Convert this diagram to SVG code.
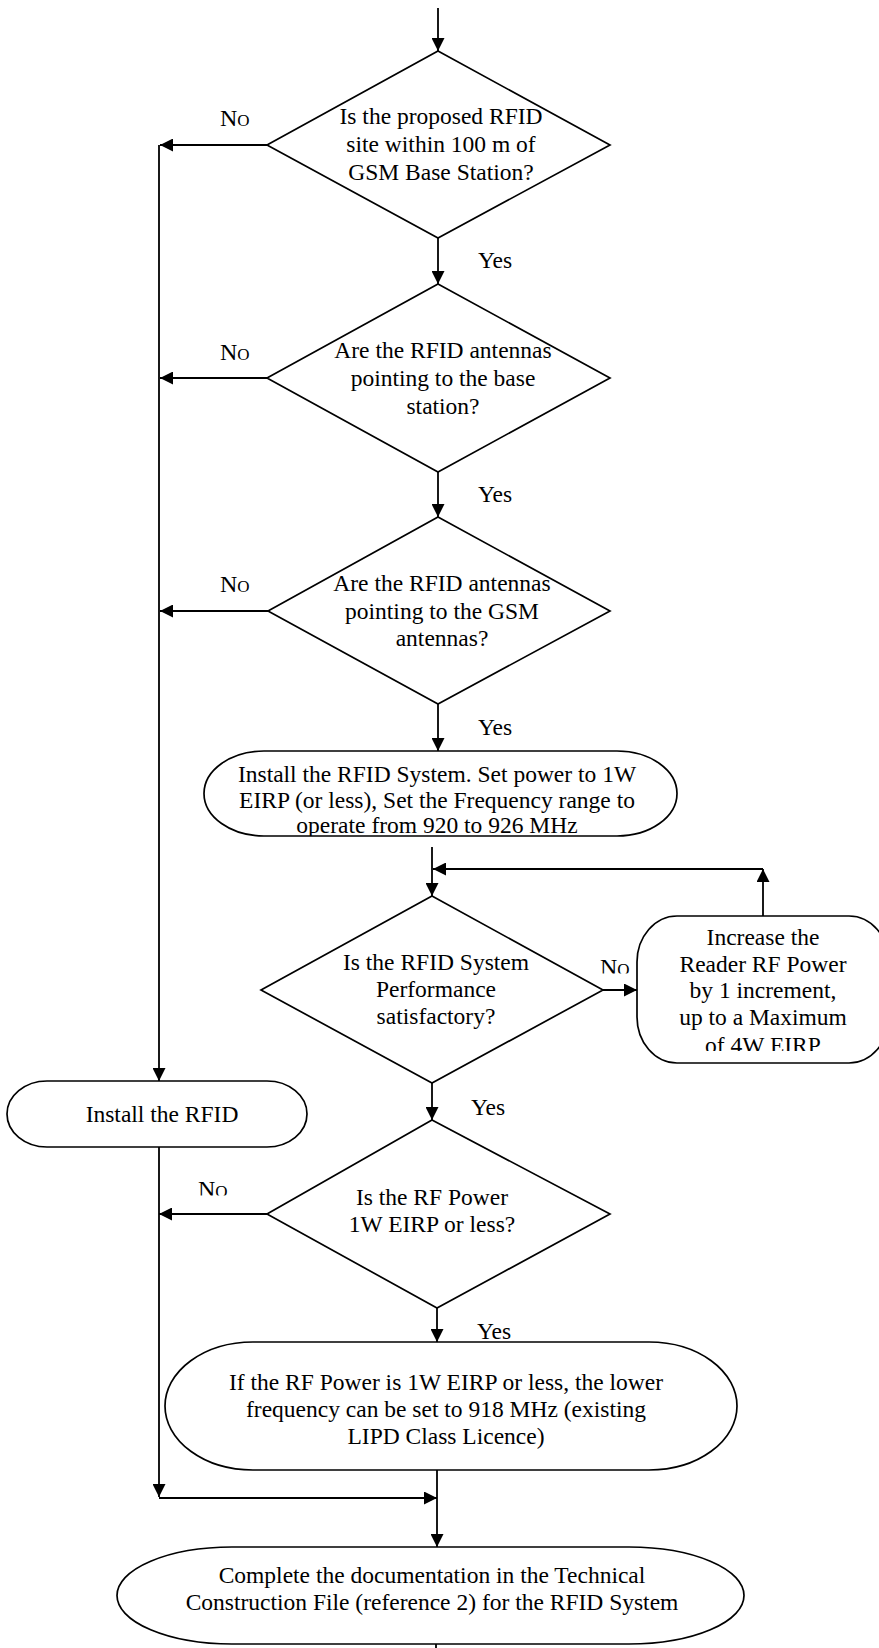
<svg xmlns="http://www.w3.org/2000/svg" width="879" height="1648" viewBox="0 0 879 1648">
<style>
.shape{fill:#fff;stroke:#000;stroke-width:1.7}
.conn{fill:none;stroke:#000;stroke-width:1.8}
text{font-family:"Liberation Serif","Times New Roman",serif;font-size:23.5px;fill:#000}
.c{text-anchor:middle}
.no{font-variant:small-caps;font-size:24px}
</style>
<defs>
<marker id="ah" markerUnits="userSpaceOnUse" markerWidth="14" markerHeight="13" refX="13" refY="6.5" orient="auto">
<path d="M0,0 L13,6.5 L0,13 z" fill="#000"/>
</marker>
<clipPath id="clipE1"><rect x="0" y="700" width="879" height="136"/></clipPath>
<clipPath id="clipInc"><rect x="600" y="900" width="279" height="151"/></clipPath>
<clipPath id="clipNo4"><rect x="590" y="940" width="60" height="33.5"/></clipPath>
<clipPath id="clipNo5"><rect x="190" y="1160" width="60" height="35.5"/></clipPath>
</defs>

<g id="connectors">
<line class="conn" x1="438" y1="8" x2="438" y2="51" marker-end="url(#ah)"/>
<line class="conn" x1="438" y1="238" x2="438" y2="284" marker-end="url(#ah)"/>
<line class="conn" x1="267" y1="145" x2="160" y2="145" marker-end="url(#ah)"/>
<line class="conn" x1="267" y1="378" x2="160" y2="378" marker-end="url(#ah)"/>
<line class="conn" x1="438" y1="472" x2="438" y2="517" marker-end="url(#ah)"/>
<line class="conn" x1="268" y1="611" x2="160" y2="611" marker-end="url(#ah)"/>
<line class="conn" x1="438" y1="704" x2="438" y2="751" marker-end="url(#ah)"/>
<line class="conn" x1="159" y1="145" x2="159" y2="1081" marker-end="url(#ah)"/>
<line class="conn" x1="432" y1="847" x2="432" y2="896" marker-end="url(#ah)"/>
<line class="conn" x1="763" y1="916" x2="763" y2="869" marker-end="url(#ah)"/>
<line class="conn" x1="763" y1="869" x2="433" y2="869" marker-end="url(#ah)"/>
<line class="conn" x1="603" y1="990" x2="637" y2="990" marker-end="url(#ah)"/>
<line class="conn" x1="432" y1="1083" x2="432" y2="1120" marker-end="url(#ah)"/>
<line class="conn" x1="267" y1="1214" x2="159" y2="1214" marker-end="url(#ah)"/>
<line class="conn" x1="159" y1="1147" x2="159" y2="1497" marker-end="url(#ah)"/>
<line class="conn" x1="159" y1="1498" x2="437" y2="1498" marker-end="url(#ah)"/>
<line class="conn" x1="437" y1="1308" x2="437" y2="1342" marker-end="url(#ah)"/>
<line class="conn" x1="437" y1="1470" x2="437" y2="1547" marker-end="url(#ah)"/>
<line class="conn" x1="436" y1="1644" x2="436" y2="1648"/>
</g>

<g id="labels">
<text x="478" y="268">Yes</text>
<text x="478" y="502">Yes</text>
<text x="478" y="735">Yes</text>
<text x="471" y="1115">Yes</text>
<text x="477" y="1339">Yes</text>
<text class="no" x="220" y="126">No</text>
<text class="no" x="220" y="360">No</text>
<text class="no" x="220" y="592">No</text>
<g clip-path="url(#clipNo4)"><text class="no" x="600" y="975">No</text></g>
<g clip-path="url(#clipNo5)"><text class="no" x="198" y="1197">No</text></g>
</g>

<g id="d1">
<polygon class="shape" points="438,51 610,145 438,238 267,145"/>
<text class="c" x="441" y="124">Is the proposed RFID</text>
<text class="c" x="441" y="152">site within 100 m of</text>
<text class="c" x="441" y="180">GSM Base Station?</text>
</g>

<g id="d2">
<polygon class="shape" points="438,284 610,378 438,472 267,378"/>
<text class="c" x="443" y="358">Are the RFID antennas</text>
<text class="c" x="443" y="386">pointing to the base</text>
<text class="c" x="443" y="414">station?</text>
</g>

<g id="d3">
<polygon class="shape" points="438,517 610,611 438,704 268,611"/>
<text class="c" x="442" y="591">Are the RFID antennas</text>
<text class="c" x="442" y="619">pointing to the GSM</text>
<text class="c" x="442" y="646">antennas?</text>
</g>

<g id="e1">
<rect class="shape" x="204" y="751" width="473" height="85" rx="60" ry="42.5"/>
<g clip-path="url(#clipE1)">
<text class="c" x="437" y="782">Install the RFID System. Set power to 1W</text>
<text class="c" x="437" y="808">EIRP (or less), Set the Frequency range to</text>
<text class="c" x="437" y="833">operate from 920 to 926 MHz</text>
</g>
</g>

<g id="d4">
<polygon class="shape" points="432,896 603,990 432,1083 261,990"/>
<text class="c" x="436" y="970">Is the RFID System</text>
<text class="c" x="436" y="997">Performance</text>
<text class="c" x="436" y="1024">satisfactory?</text>
</g>

<g id="inc">
<rect class="shape" x="637" y="916" width="252" height="147" rx="40" ry="46"/>
<g clip-path="url(#clipInc)">
<text class="c" x="763" y="945">Increase the</text>
<text class="c" x="763" y="972">Reader RF Power</text>
<text class="c" x="763" y="998">by 1 increment,</text>
<text class="c" x="763" y="1025">up to a Maximum</text>
<text class="c" x="763" y="1053">of 4W EIRP</text>
</g>
</g>

<g id="install">
<rect class="shape" x="7" y="1081" width="300" height="66" rx="40" ry="33"/>
<text class="c" x="162" y="1122">Install the RFID</text>
</g>

<g id="d5">
<polygon class="shape" points="432,1120 610,1214 437,1308 267,1214"/>
<text class="c" x="432" y="1205">Is the RF Power</text>
<text class="c" x="432" y="1232">1W EIRP or less?</text>
</g>

<g id="e2">
<rect class="shape" x="165" y="1342" width="572" height="128" rx="88" ry="64"/>
<text class="c" x="446" y="1390">If the RF Power is 1W EIRP or less, the lower</text>
<text class="c" x="446" y="1417">frequency can be set to 918 MHz (existing</text>
<text class="c" x="446" y="1444">LIPD Class Licence)</text>
</g>

<g id="final">
<rect class="shape" x="117" y="1547" width="627" height="97" rx="115" ry="48.5"/>
<text class="c" x="432" y="1583">Complete the documentation in the Technical</text>
<text class="c" x="432" y="1610">Construction File (reference 2) for the RFID System</text>
</g>
</svg>
